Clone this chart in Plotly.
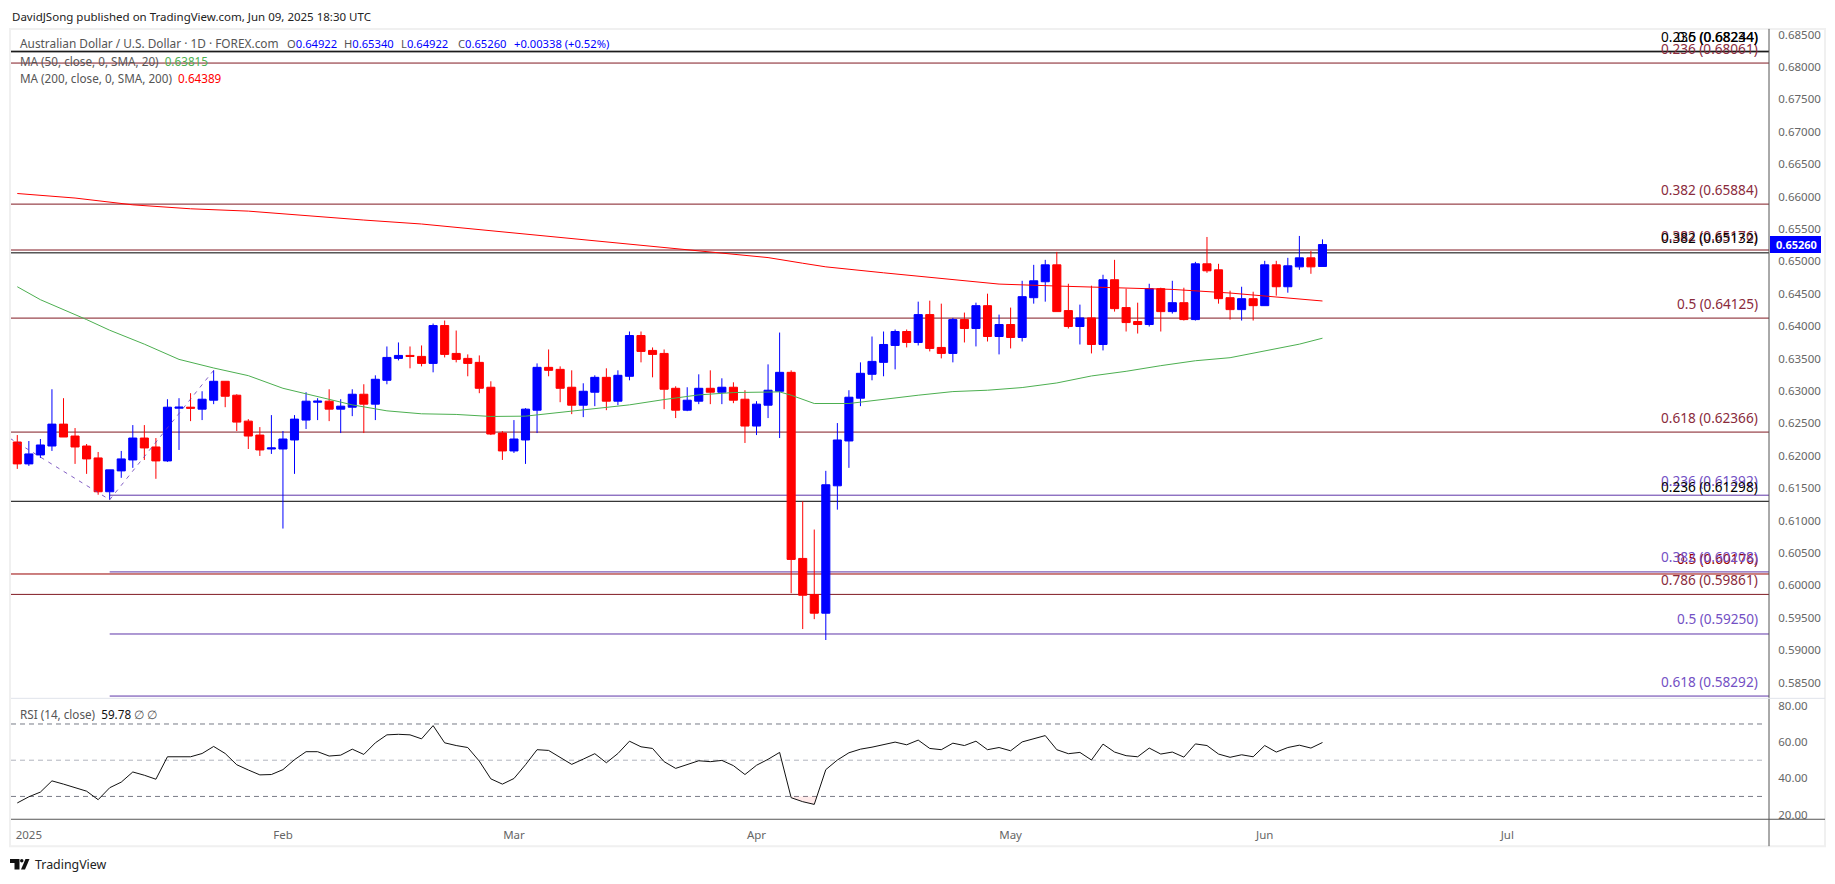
import plotly.graph_objects as go

# AUD/USD daily bars (bar 0 = first bar of 2025)
opens = [
    0.62213,0.61875,0.62013,0.62151,0.62489,0.62305,0.62151,0.61967,0.61445,0.61767,
    0.61936,0.62274,0.62136,0.61921,0.62735,0.62750,0.62720,0.62858,0.63150,0.62935,
    0.62535,0.62320,0.62105,0.62105,0.62244,0.62551,0.62827,0.62843,0.62720,0.62750,
    0.62950,0.62797,0.63165,0.63503,0.63549,0.63534,0.63426,0.64010,0.63580,0.63503,
    0.63442,0.63058,0.62351,0.62075,0.62244,0.62704,0.63365,0.63334,0.63058,0.62781,
    0.62981,0.63211,0.62843,0.63227,0.63856,0.63626,0.63580,0.63042,0.62704,0.62843,
    0.63042,0.62981,0.63058,0.62873,0.62459,0.62781,0.62996,0.63288,0.60416,0.59858,
    0.59571,0.61537,0.62229,0.62889,0.63258,0.63442,0.63703,0.63918,0.63749,0.64179,
    0.63672,0.63580,0.64102,0.63964,0.64317,0.63841,0.64026,0.63826,0.64440,0.64686,
    0.64947,0.64241,0.63995,0.64128,0.63718,0.64717,0.64287,0.64072,0.64026,0.64579,
    0.64225,0.64363,0.64102,0.64963,0.64870,0.64440,0.64256,0.64425,0.64317,0.64947,
    0.64609,0.64916,0.65055,0.64922]
highs = [
    0.62320,0.62228,0.62259,0.63027,0.62889,0.62428,0.62182,0.62059,0.61783,0.62075,
    0.62474,0.62474,0.62274,0.62873,0.62889,0.62966,0.62996,0.63319,0.63150,0.62950,
    0.62566,0.62443,0.62628,0.62382,0.62628,0.62981,0.62889,0.63027,0.62873,0.63027,
    0.63104,0.63242,0.63687,0.63749,0.63687,0.63703,0.64041,0.64087,0.63933,0.63565,
    0.63549,0.63150,0.62382,0.62551,0.62735,0.63426,0.63641,0.63380,0.63319,0.63119,
    0.63242,0.63350,0.63319,0.63918,0.63918,0.63672,0.63641,0.63073,0.63058,0.63257,
    0.63319,0.63196,0.63134,0.63012,0.62843,0.63411,0.63902,0.63319,0.61297,0.60862,
    0.61768,0.62505,0.63012,0.63442,0.63841,0.63918,0.63949,0.63949,0.64379,0.64394,
    0.64348,0.64128,0.64210,0.64363,0.64502,0.64179,0.64287,0.64701,0.64947,0.65024,
    0.65147,0.64655,0.64333,0.64625,0.64794,0.65024,0.64579,0.64363,0.64655,0.64594,
    0.64701,0.64594,0.64993,0.65377,0.64963,0.64548,0.64609,0.64532,0.65009,0.65009,
    0.65055,0.65393,0.65162,0.65340]
lows = [
    0.61798,0.61844,0.61967,0.62075,0.62290,0.61875,0.61721,0.61399,0.61322,0.61660,
    0.61814,0.61936,0.61645,0.61906,0.62090,0.62535,0.62551,0.62797,0.62750,0.62382,
    0.62105,0.61998,0.62029,0.60877,0.61721,0.62413,0.62551,0.62535,0.62351,0.62612,
    0.62351,0.62551,0.63104,0.63472,0.63350,0.63380,0.63288,0.63518,0.63442,0.63227,
    0.62966,0.62320,0.61936,0.62044,0.61875,0.62351,0.63227,0.62827,0.62643,0.62597,
    0.62766,0.62704,0.62781,0.63165,0.63442,0.63211,0.62720,0.62582,0.62689,0.62797,
    0.62797,0.62797,0.62812,0.62198,0.62320,0.62582,0.62274,0.59879,0.59326,0.59479,
    0.59157,0.61169,0.61814,0.62766,0.63165,0.63227,0.63334,0.63672,0.63703,0.63611,
    0.63503,0.63442,0.63749,0.63688,0.63764,0.63565,0.63657,0.63764,0.64348,0.64379,
    0.64225,0.63964,0.63718,0.63580,0.63626,0.64225,0.63918,0.63887,0.63995,0.63918,
    0.64195,0.64087,0.64087,0.64824,0.64348,0.64102,0.64087,0.64087,0.64317,0.64471,
    0.64517,0.64870,0.64809,0.64922]
closes = [
    0.61875,0.62029,0.62167,0.62489,0.62290,0.62136,0.61952,0.61445,0.61783,0.61952,
    0.62274,0.62121,0.61921,0.62750,0.62750,0.62735,0.62873,0.63150,0.62919,0.62520,
    0.62305,0.62090,0.62121,0.62259,0.62566,0.62843,0.62843,0.62720,0.62766,0.62950,
    0.62797,0.63181,0.63518,0.63549,0.63534,0.63426,0.64010,0.63565,0.63488,0.63426,
    0.63042,0.62336,0.62075,0.62259,0.62720,0.63365,0.63319,0.63042,0.62781,0.62996,
    0.63211,0.62843,0.63242,0.63856,0.63611,0.63565,0.63027,0.62704,0.62858,0.63042,
    0.62981,0.63058,0.62858,0.62459,0.62797,0.63012,0.63288,0.60401,0.59848,0.59571,
    0.61553,0.62244,0.62904,0.63273,0.63457,0.63718,0.63918,0.63749,0.64179,0.63657,
    0.63580,0.64102,0.63964,0.64317,0.63841,0.64026,0.63826,0.64456,0.64701,0.64947,
    0.64225,0.63995,0.64128,0.63718,0.64717,0.64271,0.64056,0.64026,0.64579,0.64225,
    0.64363,0.64102,0.64963,0.64855,0.64425,0.64256,0.64425,0.64317,0.64947,0.64609,
    0.64932,0.65055,0.64916,0.65260]

# moving averages, read at every few bars
ma50_bars = [0,2,6,8,11,14,17,20,23,26,29,32,35,38,41,44,47,50,53,56,59,62,65,66,67,69,72,75,78,81,84,87,90,93,96,99,102,105,108,111,113]
ma50_values = [
    0.64609,0.64409,0.64102,0.63938,0.63723,0.63488,0.63355,0.63237,0.63042,0.62919,
    0.62786,0.62694,0.62648,0.62638,0.62607,0.62612,0.62669,0.62720,0.62786,0.62868,
    0.62940,0.62976,0.62981,0.62986,0.62935,0.62807,0.62807,0.62873,0.62935,0.62991,
    0.63012,0.63053,0.63124,0.63232,0.63304,0.63391,0.63467,0.63514,0.63621,0.63723,0.63815]
ma200_bars = [0,5,10,15,20,25,30,35,40,45,50,55,60,65,68,70,75,80,85,90,95,100,105,110,113]
ma200_values = [
    0.66048,0.65978,0.65873,0.65812,0.65776,0.65705,0.65638,0.65577,0.65490,0.65402,
    0.65310,0.65228,0.65146,0.65059,0.64972,0.64916,0.64824,0.64742,0.64650,0.64620,
    0.64599,0.64568,0.64512,0.64440,0.64389]

rsi_values = [
    26.4,29.8,32.4,38.6,36.8,34.8,32.9,28.2,34.8,37.9,
    43.5,41.7,39.5,51.9,51.9,51.9,53.7,57.6,53.7,47.5,
    44.6,41.9,42.1,44.8,50.3,54.7,54.7,52.3,52.8,56.1,
    53.2,59.6,64.0,64.3,64.0,61.8,69.1,59.6,58.1,57.0,
    49.5,39.7,36.8,39.9,47.5,55.8,55.4,51.4,47.7,50.6,
    53.6,48.6,53.7,60.5,57.4,56.5,49.2,45.5,47.5,49.7,
    49.2,49.9,47.0,42.1,47.2,50.5,54.3,29.3,27.1,25.6,
    44.8,50.1,54.1,56.1,57.2,58.7,60.0,58.5,61.1,56.5,
    55.8,59.4,58.1,60.5,55.8,57.0,55.2,60.1,61.8,63.6,
    55.8,53.6,54.3,50.1,58.9,54.5,52.5,51.9,56.7,53.4,
    54.5,51.7,59.0,58.1,53.4,51.6,53.0,51.9,58.1,54.5,
    57.0,58.3,56.7,59.78]

# fibonacci drawings
maroon_ratios = ["0.236","0.382","0.382","0.5","0.618","0.786"]
maroon_levels = [0.68061,0.65884,0.65176,0.64125,0.62366,0.59861]
bright_ratios = ["0.5"]
bright_levels = [0.60176]
black_ratios = ["0.236","0.5","0.382","0.236"]
black_levels = [0.68234,0.68244,0.65132,0.61298]
purple_ratios = ["0.236","0.382","0.5","0.618"]
purple_levels = [0.61392,0.60208,0.59250,0.58292]
swing_bars = [-0.63,8,17]
swing_prices = [0.62269,0.61322,0.63319]

month_bars = [1,23,43,64,86,108,129]
month_labels = ["2025","Feb","Mar","Apr","May","Jun","Jul"]
rsi_bands = [70,50,30]

W, H = 1819, 868   # page body has an 8px margin
FONT = "Noto Sans"
AXIS_GREY = "#666666"
MAROON = "#801922"
PURPLE = "#673ab7"


def px(x):
    return (x - 8) / W


def py(y):
    return 1 - (y - 8) / H


bars = list(range(len(closes)))
x_range = [-0.545, 151.66]

fig = go.Figure()
fig.add_trace(go.Scatter(x=swing_bars, y=swing_prices, mode="lines", line=dict(color=PURPLE, width=1, dash="4px,5px"), opacity=0.8))
fig.add_trace(go.Scatter(x=ma50_bars, y=ma50_values, mode="lines", line=dict(color="#4caf50", width=1)))
fig.add_trace(go.Scatter(x=ma200_bars, y=ma200_values, mode="lines", line=dict(color="#ff0000", width=1)))
fig.add_trace(go.Candlestick(
    x=bars, open=opens, high=highs, low=lows, close=closes,
    increasing=dict(line=dict(color="#0000ff", width=1), fillcolor="#0000ff"),
    decreasing=dict(line=dict(color="#ff0000", width=1), fillcolor="#ff0000"),
    whiskerwidth=0,
))
# oversold patch under the 30 band in April
fig.add_trace(go.Scatter(x=[66.97,67,68,69,69.23], y=[30]+rsi_values[67:70]+[30], mode="lines", fill="toself",
                         fillcolor="rgba(255,82,82,0.12)", line=dict(width=0), xaxis="x2", yaxis="y2"))
fig.add_trace(go.Scatter(x=bars, y=rsi_values, mode="lines", line=dict(color="#111111", width=1), xaxis="x2", yaxis="y2"))

annotations = []


def level_group(levels, ratios, line_color, text_color, start, width=1):
    for level, ratio in zip(levels, ratios):
        fig.add_shape(type="line", xref="x", yref="y", x0=start, x1=x_range[1], y0=level, y1=level,
                      line=dict(color=line_color, width=width), layer="below")
        annotations.append(dict(
            text=f"{ratio} ({level:.5f})", xref="paper", yref="y", x=px(1759.5), y=level,
            xanchor="right", yanchor="middle", yshift=15, showarrow=False,
            font=dict(family=FONT, size=13.6, color=text_color),
        ))


level_group(maroon_levels, maroon_ratios, MAROON, "#8a2b3c", x_range[0])
level_group(bright_levels, bright_ratios, "#990000", "#990000", x_range[0])
level_group(purple_levels, purple_ratios, "#5e35a8", "#7350c4", 8)
level_group(black_levels, black_ratios, "#000000", "#000000", x_range[0])

for band in rsi_bands:
    fig.add_shape(type="line", xref="x2", yref="y2", x0=x_range[0], x1=x_range[1] - 0.4, y0=band, y1=band,
                  line=dict(color="#b2b5be" if band == 50 else "#787b86", width=1, dash="5px,4px"), layer="below")


def text(s, x, y, size=12, color="#555555", anchor="left"):
    annotations.append(dict(text=s, xref="paper", yref="paper", x=px(x), y=py(y), xanchor=anchor, yanchor="middle",
                            showarrow=False, font=dict(family=FONT, size=size, color=color)))


def blue(s):
    return f'<span style="color:#0000ff">{s}</span>'


text("DavidJSong published on TradingView.com, Jun 09, 2025 18:30 UTC", 9.5, 15, 11.5, "#222222")
text("Australian Dollar / U.S. Dollar · 1D · FOREX.com", 18, 41.5, 11.85)
text("O" + blue("0.64922"), 285, 41.5, 11.2)
text("H" + blue("0.65340"), 342, 41.5, 11.2)
text("L" + blue("0.64922"), 399, 41.5, 11.2)
text("C" + blue("0.65260"), 456, 41.5, 11.2)
text(blue("+0.00338 (+0.52%)"), 512, 41.5, 11.2)
text('MA (50, close, 0, SMA, 20)  <span style="color:#4caf50">0.63815</span>', 18, 59, 11.7)
text('MA (200, close, 0, SMA, 200)  <span style="color:#ff0000">0.64389</span>', 18, 76, 11.7)
text('RSI (14, close)  <span style="color:#111111">59.78</span> ∅ ∅', 18, 715, 11.7)
text("TradingView", 33, 866.5, 12.4, "#222222")
text("<b>0.65260</b>", 1796, 243.5, 11, "#ffffff", "center")

# frame and pane separators, in page pixels
fig.add_shape(type="rect", xref="paper", yref="paper", x0=px(10), x1=px(1825), y0=py(27), y1=py(848), line=dict(color="#f0f0f0", width=2), layer="below")
fig.add_shape(type="line", xref="paper", yref="paper", x0=px(1769), x1=px(1769), y0=py(27), y1=py(848), line=dict(color="#555555", width=1))
fig.add_shape(type="line", xref="paper", yref="paper", x0=px(11), x1=px(1825), y0=py(821), y1=py(821), line=dict(color="#555555", width=1))
fig.add_shape(type="line", xref="paper", yref="paper", x0=px(11), x1=px(1825), y0=py(699.5), y1=py(699.5), line=dict(color="#e0e3eb", width=1))
fig.add_shape(type="rect", xref="paper", yref="paper", x0=px(1770), x1=px(1821), y0=py(235), y1=py(252), fillcolor="#0000ff", line=dict(width=0))

# TradingView mark
fig.add_shape(type="path", xref="paper", yref="paper", line=dict(width=0), fillcolor="#111111", path=(
    f"M {px(10)},{py(861)} L {px(19.5)},{py(861)} L {px(19.5)},{py(871.5)} L {px(14.5)},{py(871.5)} "
    f"L {px(14.5)},{py(865)} L {px(10)},{py(865)} Z"))
fig.add_shape(type="circle", xref="paper", yref="paper", line=dict(width=0), fillcolor="#111111",
              x0=px(20), x1=px(23.5), y0=py(861), y1=py(864.5))
fig.add_shape(type="path", xref="paper", yref="paper", line=dict(width=0), fillcolor="#111111", path=(
    f"M {px(25.5)},{py(861)} L {px(29.5)},{py(861)} L {px(25)},{py(871.5)} L {px(21)},{py(871.5)} Z"))

axis_common = dict(showgrid=False, zeroline=False, showline=False)
tick_font = dict(family=FONT, size=11.5, color=AXIS_GREY)
fig.update_layout(
    width=W, height=H, margin=dict(l=0, r=0, t=0, b=0),
    paper_bgcolor="#ffffff", plot_bgcolor="#ffffff", showlegend=False,
    annotations=annotations, boxgap=0,
    xaxis=dict(domain=[px(11), px(1769)], range=x_range, showticklabels=False, rangeslider=dict(visible=False), **axis_common),
    yaxis=dict(domain=[py(699), py(27)], range=[0.58265, 0.68588], side="right", tick0=0.585, dtick=0.005, tickformat=".5f",
               ticks="outside", ticklen=6, tickcolor="rgba(0,0,0,0)", tickfont=tick_font, **axis_common),
    xaxis2=dict(domain=[px(11), px(1769)], range=x_range, anchor="y2", tickvals=month_bars, ticktext=month_labels,
                ticks="outside", ticklen=5, tickcolor="rgba(0,0,0,0)", tickfont=tick_font, **axis_common),
    yaxis2=dict(domain=[py(821), py(700)], range=[17.4, 83.9], side="right", anchor="x2", tickvals=[20,40,60,80], tickformat=".2f",
                ticks="outside", ticklen=6, tickcolor="rgba(0,0,0,0)", tickfont=tick_font, **axis_common),
)

fig.write_html("out.html")
